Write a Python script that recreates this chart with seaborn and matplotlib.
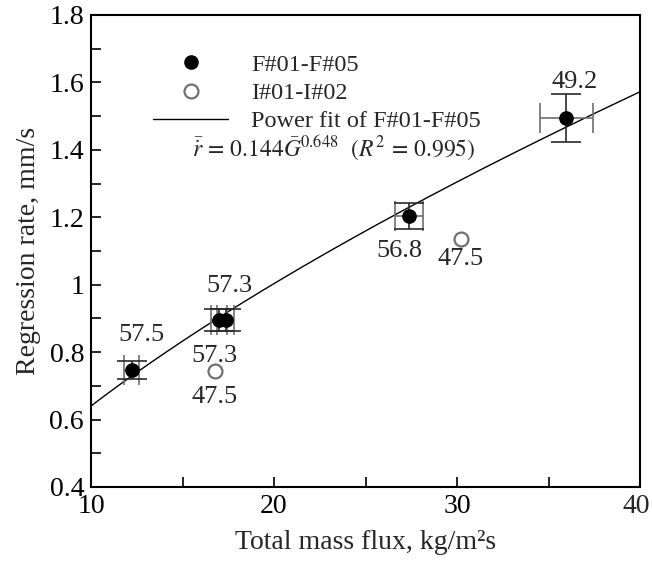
import numpy as np
import pandas as pd
import matplotlib
matplotlib.use("Agg")
import matplotlib.pyplot as plt
import seaborn as sns
from matplotlib.ticker import MultipleLocator
from matplotlib.lines import Line2D

# Data
f_flux = [12.24, 17.0, 17.35, 27.38, 35.97]
f_rate = [0.748, 0.895, 0.895, 1.204, 1.495]
f_xerr = [0.41, 0.44, 0.44, 0.75, 1.44]
f_yerr = [0.027, 0.033, 0.033, 0.039, 0.072]
i_flux = [16.78, 30.24]
i_rate = [0.744, 1.137]
fit_coef = 0.144
fit_exp = 0.648
x_ticks = [10, 20, 30, 40]
x_ticklabels = ["10", "20", "30", "40"]
y_ticks = [0.4, 0.6, 0.8, 1.0, 1.2, 1.4, 1.6, 1.8]
y_ticklabels = ["0.4", "0.6", "0.8", "1", "1.2", "1.4", "1.6", "1.8"]
labels_text = ["57.5", "57.3", "57.3", "56.8", "49.2", "47.5", "47.5"]
labels_xy = [(12.75, 0.85), (17.55, 0.996), (16.74, 0.788), (26.87, 1.10),
             (36.42, 1.60), (16.74, 0.666), (30.2, 1.076)]

sns.set_theme(style="ticks")
plt.rcParams["font.family"] = ["Liberation Serif", "DejaVu Serif"]
plt.rcParams["mathtext.fontset"] = "stix"

fig = plt.figure(figsize=(6.52, 5.61), dpi=100)
ax = fig.add_axes([91/652, 1 - 487/561, (640 - 91)/652, (487 - 15)/561])

G = np.linspace(10, 40, 200)
fit_df = pd.DataFrame({"G": G, "r": fit_coef * G ** fit_exp})
sns.lineplot(data=fit_df, x="G", y="r", ax=ax, color="black", lw=1.0, legend=False)

ax.errorbar(f_flux, f_rate, xerr=f_xerr, fmt="none",
            ecolor="#6e6e6e", elinewidth=1.2, capsize=11, capthick=1.2, zorder=3)
ax.errorbar(f_flux, f_rate, yerr=f_yerr, fmt="none",
            ecolor="#2a2a2a", elinewidth=1.2, capsize=11, capthick=1.2, zorder=3)

fdf = pd.DataFrame({"x": f_flux, "y": f_rate})
idf = pd.DataFrame({"x": i_flux, "y": i_rate})
sns.scatterplot(data=fdf, x="x", y="y", ax=ax, color="black", s=95,
                edgecolor="black", zorder=4, legend=False)
sns.scatterplot(data=idf, x="x", y="y", ax=ax, facecolor="white", s=100,
                edgecolor="#707070", linewidth=1.6, zorder=4, legend=False)

for t, (x, y) in zip(labels_text, labels_xy):
    ax.text(x, y, t, fontsize=19, ha="center", va="center")

ax.set_xlim(10, 40)
ax.set_ylim(0.4, 1.8)
ax.set_xticks(x_ticks)
ax.set_xticklabels(x_ticklabels[:-1] + [""])
ax.xaxis.set_minor_locator(MultipleLocator(5))
ax.yaxis.set_minor_locator(MultipleLocator(0.1))
ax.set_yticks(y_ticks)
ax.set_yticklabels(y_ticklabels)
ax.tick_params(which="both", direction="in", length=7, width=1.2,
               top=False, right=False, labelsize=20, pad=5, colors="black")
for s in ax.spines.values():
    s.set_linewidth(1.5)
    s.set_color("black")
    s.set_visible(True)

# last x tick label, nudged slightly left so it stays inside the figure
ax.annotate(x_ticklabels[-1], xy=(x_ticks[-1], 0), xycoords=("data", "axes fraction"),
            xytext=(-2.5, -5), textcoords="offset points",
            ha="center", va="top", fontsize=20)

ax.set_xlabel("Total mass flux, kg/m\u00b2s", fontsize=20, labelpad=8)
ax.set_ylabel("Regression rate, mm/s", fontsize=20, labelpad=6)

handles = [
    Line2D([], [], marker="o", ls="none", color="black", markersize=9.5),
    Line2D([], [], marker="o", ls="none", markerfacecolor="white",
           markeredgecolor="#707070", markeredgewidth=1.6, markersize=10),
    Line2D([], [], color="black", lw=1.0),
]
ax.legend(handles, ["F#01-F#05", "I#01-I#02", "Power fit of F#01-F#05"],
          loc="upper left", bbox_to_anchor=(0.113, 0.918), frameon=False,
          borderaxespad=0, borderpad=0,
          fontsize=17.5, handlelength=3.1, handletextpad=0.95, labelspacing=0.26)

ax.text(0.184, 0.72, r"$\bar{\dot{r}}\,=\,0.144\bar{G}^{0.648}$  $(R^2\,=\,0.995)$",
        transform=ax.transAxes, fontsize=17, ha="left", va="center")

fig.savefig("out.png", dpi=100)
